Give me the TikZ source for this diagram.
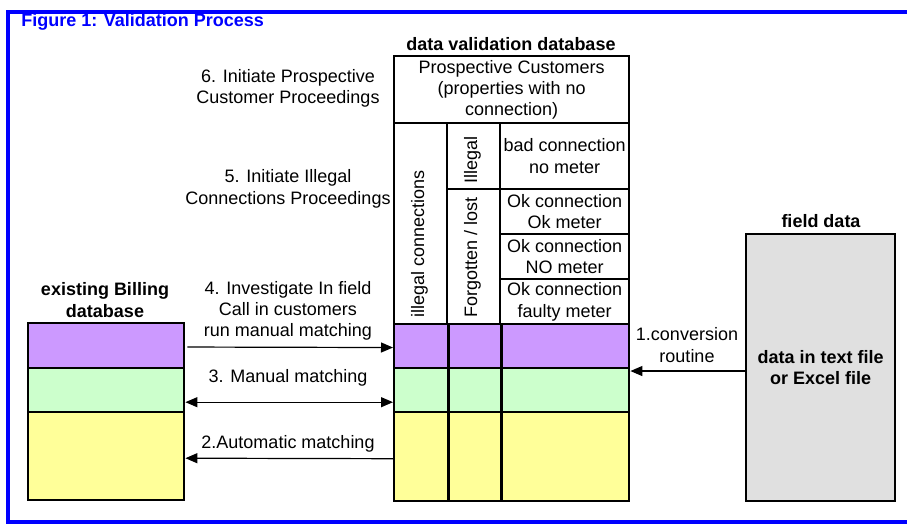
\documentclass[tikz,border=0pt]{standalone}
\usepackage{fontspec}
\setmainfont{Liberation Sans}
\usepackage{tikz}
\usetikzlibrary{arrows.meta}

\definecolor{lilac}{HTML}{CC99FF}
\definecolor{mint}{HTML}{CCFFCC}
\definecolor{lemon}{HTML}{FFFF99}
\definecolor{paper}{HTML}{E0E0E0}
\definecolor{frameblue}{HTML}{0000FF}

\begin{document}
\begin{tikzpicture}[x=0.75pt, y=-0.75pt,
    font=\fontsize{13.5}{16}\selectfont,
    box/.style={draw, line width=1.8pt, inner sep=0pt, anchor=north west, align=center},
    lbl/.style={align=center, inner sep=0pt},
    hdr/.style={align=center, inner sep=0pt, font=\fontsize{13.5}{16}\selectfont\bfseries},
    flow/.style={line width=0.9pt, -{Triangle[length=9pt,width=7.5pt]}}]
                    \useasboundingbox (0,0) rectangle (907,524);
                    \draw[frameblue, line width=3pt] (8,12) rectangle (950,522);
                    % Nodes
                    \node[hdr, anchor=west, text=frameblue] (title) at (21,22) {Figure 1: Validation Process};
                    % existing billing database
                    \node[hdr] (bilhdr) at (105,300) {existing Billing\\database};
                    \node[box, fill=lilac, minimum width=117pt, minimum height=33.75pt] (bpur) at (27,322) {};
                    \node[box, fill=mint, minimum width=117pt, minimum height=33pt] (bgrn) at (27,367) {};
                    \node[box, fill=lemon, minimum width=117pt, minimum height=66pt] (bylw) at (27,411) {};
                    % data validation database
                    \node[hdr] (vhdr) at (511,44) {data validation database};
                    \node[box, minimum width=176.25pt, minimum height=50.25pt] (prosp) at (393,55) {Prospective Customers\\(properties with no\\connection)};
                    \node[box, minimum width=39.75pt, minimum height=150.75pt] (illcon) at (393,122) {};
                    \node[box, minimum width=39.75pt, minimum height=49.5pt] (illeg) at (446,122) {};
                    \node[box, minimum width=39.75pt, minimum height=101.25pt] (forg) at (446,188) {};
                    \node[box, minimum width=96.75pt, minimum height=49.5pt] (badcon) at (499,122) {bad connection\\no meter};
                    \node[box, minimum width=96.75pt, minimum height=33.75pt] (okok) at (499,188) {Ok connection\\Ok meter};
                    \node[box, minimum width=96.75pt, minimum height=33.75pt] (okno) at (499,233) {Ok connection\\NO meter};
                    \node[box, minimum width=96.75pt, minimum height=33.75pt] (okfault) at (499,278) {Ok connection\\faulty meter};
                    \node[lbl, rotate=90, anchor=west] (illtxt) at (419.5,318) {illegal connections};
                    \node[lbl, rotate=90, anchor=west] (illegtxt) at (472.5,184) {Illegal};
                    \node[lbl, rotate=90, anchor=west] (forgtxt) at (472.5,318) {Forgotten / lost};
                    \node[box, fill=lilac, minimum width=176.25pt, minimum height=33pt] (vpur) at (393,323) {};
                    \node[box, fill=mint, minimum width=176.25pt, minimum height=33pt] (vgrn) at (393,367) {};
                    \node[box, fill=lemon, minimum width=176.25pt, minimum height=66.75pt] (vylw) at (393,411) {};
                    \draw[line width=1.8pt] (illcon.south east) -- (illcon.south east |- vylw.south);
                    \draw[line width=1.8pt] (forg.south east) -- (forg.south east |- vylw.south);
                    % field data
                    \node[hdr] (fhdr) at (821,221) {field data};
                    \node[box, fill=paper, minimum width=111.75pt, minimum height=200.25pt, font=\fontsize{13.5}{16}\selectfont\bfseries] (field) at (745,233) {data in text file\\or Excel file};
                    % Labels
                    \node[lbl] (step6) at (288,88.5) {6. Initiate Prospective\\Customer Proceedings};
                    \node[lbl] (step5) at (288,189) {5. Initiate Illegal\\Connections Proceedings};
                    \node[lbl] (step4) at (288,311) {4. Investigate In field\\Call in customers\\run manual matching};
                    \node[lbl] (step3) at (288,378) {3. Manual matching};
                    \node[lbl] (step2) at (288,444) {2.Automatic matching};
                    \node[lbl] (step1) at (687,345) {1.conversion\\routine};
                    \coordinate (conv) at ([yshift=-2.5pt]field.west);
                    % Edges
                    \draw[flow] ([xshift=1.5pt,yshift=-1pt]bpur.east) -- ([yshift=-1pt]vpur.west);
                    \draw[flow, {Triangle[length=9pt,width=7.5pt]}-{Triangle[length=9pt,width=7.5pt]}] ([yshift=-9pt]bgrn.east) -- ([yshift=-9pt]vgrn.west);
                    \draw[flow] ([yshift=-1.5pt]vylw.west) -- ([yshift=-1.5pt]bylw.east);
                    \draw[flow] (conv) -- (conv -| vgrn.east);
                \end{tikzpicture}
\end{document}
